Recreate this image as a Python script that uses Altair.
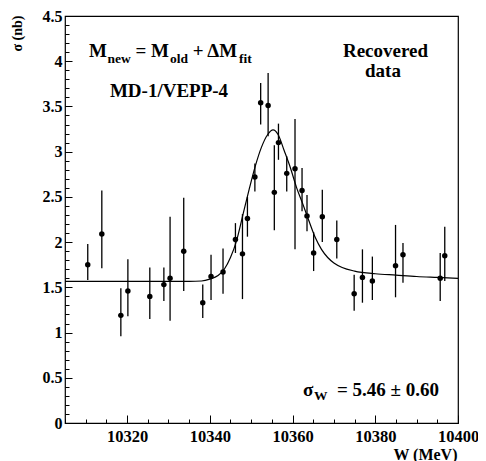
import altair as alt
import pandas as pd

# ---- data ----
W = [10310.5, 10313.9, 10318.5, 10320.2, 10325.5, 10328.9, 10330.4, 10333.7, 10338.3,
     10340.3, 10343.2, 10346.2, 10347.9, 10349.1, 10350.9, 10352.3, 10354.1, 10355.6,
     10356.6, 10358.6, 10360.6, 10362.3, 10363.5, 10365.1, 10367.2, 10370.7, 10374.9,
     10376.9, 10379.3, 10384.9, 10386.7, 10395.7, 10396.8]
sigma = [1.75, 2.09, 1.19, 1.46, 1.40, 1.53, 1.60, 1.90, 1.33, 1.62, 1.67, 2.03, 1.87,
         2.26, 2.72, 3.54, 3.51, 2.55, 3.10, 2.76, 2.81, 2.57, 2.29, 1.88, 2.28, 2.03,
         1.43, 1.61, 1.57, 1.74, 1.86, 1.60, 1.85]
err_hi = [1.98, 2.57, 1.49, 1.81, 1.72, 1.72, 2.28, 2.49, 1.53, 1.86, 1.93, 2.21, 2.31,
          2.50, 2.87, 3.76, 3.87, 3.07, 3.31, 2.95, 3.36, 2.82, 2.52, 2.11, 2.58, 2.24,
          1.64, 1.92, 1.84, 2.19, 1.99, 1.88, 2.17]
err_lo = [1.58, 1.71, 0.96, 1.18, 1.15, 1.35, 1.13, 1.46, 1.16, 1.36, 1.43, 1.88, 1.37,
          2.06, 2.56, 3.30, 3.17, 2.13, 2.91, 2.56, 1.92, 2.34, 2.12, 1.68, 2.00, 1.82,
          1.24, 1.33, 1.36, 1.39, 1.55, 1.35, 1.57]

fit_W = [10305, 10320, 10335, 10338, 10340, 10342, 10343.5, 10345, 10346.5, 10348,
         10349.5, 10351, 10352.5, 10354, 10355.3, 10356.5, 10358, 10359.5, 10361,
         10362.5, 10364, 10365.5, 10367, 10368.5, 10370, 10372, 10375, 10380, 10385,
         10390, 10395, 10400]
fit_s = [1.566, 1.566, 1.566, 1.57, 1.59, 1.63, 1.70, 1.83, 2.02, 2.30, 2.58, 2.84,
         3.05, 3.19, 3.24, 3.19, 3.01, 2.82, 2.60, 2.42, 2.23, 2.05, 1.92, 1.83, 1.77,
         1.72, 1.68, 1.65, 1.635, 1.62, 1.61, 1.60]

x_major = [10320, 10340, 10360, 10380, 10400]
x_minor = [10305 + 5 * i for i in range(20)]
y_major = [0, 0.5, 1, 1.5, 2, 2.5, 3, 3.5, 4, 4.5]
y_minor = [round(0.1 * i, 1) for i in range(46)]

df = pd.DataFrame({"W": W, "sigma": sigma, "lo": err_lo, "hi": err_hi})
cdf = pd.DataFrame({"W": fit_W, "s": fit_s})
one = pd.DataFrame({"a": [0]})

FONT = "Liberation Serif"
xs = alt.Scale(domain=[10305, 10400], nice=False, zero=False)
ys = alt.Scale(domain=[0, 4.5], nice=False, zero=False)

common = dict(grid=False, labelFont=FONT, labelFontWeight="bold", labelColor="black",
              titleFont=FONT, titleFontWeight="bold", titleColor="black",
              tickColor="black", domain=False, labelFlush=False)

x_lab = alt.Axis(orient="bottom", values=x_major, format="d", ticks=False, labelFontSize=16.5,
                 labelPadding=5, title="W (MeV)", titleFontSize=16, titleX=392, titleY=36,
                 titleAlign="right", titleBaseline="alphabetic", **common)
y_lab = alt.Axis(orient="left", values=y_major, format="~g", ticks=False, labelFontSize=16,
                 labelPadding=3, title="σ (nb)", titleFontSize=14, titleAngle=270,
                 titleX=-44, titleY=-1, titleAlign="right", titleBaseline="alphabetic",
                 **common)
x_maj = alt.Axis(orient="bottom", values=x_major, labels=False, tickSize=8, offset=-8,
                 title=None, **common)
y_maj = alt.Axis(orient="left", values=y_major, labels=False, tickSize=7, offset=-7,
                 title=None, **common)
x_min = alt.Axis(orient="bottom", values=x_minor, labels=False, tickSize=4, offset=-4,
                 title=None, **common)
y_min = alt.Axis(orient="left", values=y_minor, labels=False, tickSize=4, offset=-4,
                 title=None, **common)

bars = alt.Chart(df).mark_rule(color="black", strokeWidth=1.3).encode(
    x=alt.X("W:Q", scale=xs, axis=x_lab),
    y=alt.Y("lo:Q", scale=ys, axis=y_lab),
    y2="hi:Q",
)
pts = alt.Chart(df).mark_circle(size=30, color="black", opacity=1).encode(
    x=alt.X("W:Q", scale=xs, axis=x_maj),
    y=alt.Y("sigma:Q", scale=ys, axis=y_maj),
)
curve = alt.Chart(cdf).mark_line(color="black", strokeWidth=1.2, interpolate="monotone").encode(
    x=alt.X("W:Q", scale=xs, axis=x_min),
    y=alt.Y("s:Q", scale=ys, axis=y_min),
)


def txt(s, x, y, size=19, align="left"):
    return alt.Chart(one).mark_text(text=s, font=FONT, fontWeight="bold", fontSize=size,
                                    color="black", align=align, baseline="alphabetic").encode(
        x=alt.value(x), y=alt.value(y))


# plot area origin is at page (65, 16)
texts = [
    txt("M", 24, 41), txt("new", 42.4, 47, 13.5), txt("= M", 70.5, 41),
    txt("old", 104.9, 47, 13.5), txt("+ ΔM", 127.8, 41), txt("fit", 174.1, 47, 13.5),
    txt("MD-1/VEPP-4", 104, 81, align="center"),
    txt("Recovered", 320.5, 41, align="center"),
    txt("data", 318, 61, align="center"),
    txt("σ", 238, 380), txt("W", 249, 384, 13.5), txt("= 5.46 ± 0.60", 272, 380),
]

chart = alt.layer(bars, pts, curve, *texts).resolve_axis(
    x="independent", y="independent"
).properties(
    width=393, height=407,
    autosize=alt.AutoSizeParams(type="none"),
    padding={"left": 57, "top": 8, "right": 20, "bottom": 38},
).configure_view(stroke="black", strokeWidth=1.2)

chart.save("out.html", embed_options={"renderer": "svg", "actions": False})
